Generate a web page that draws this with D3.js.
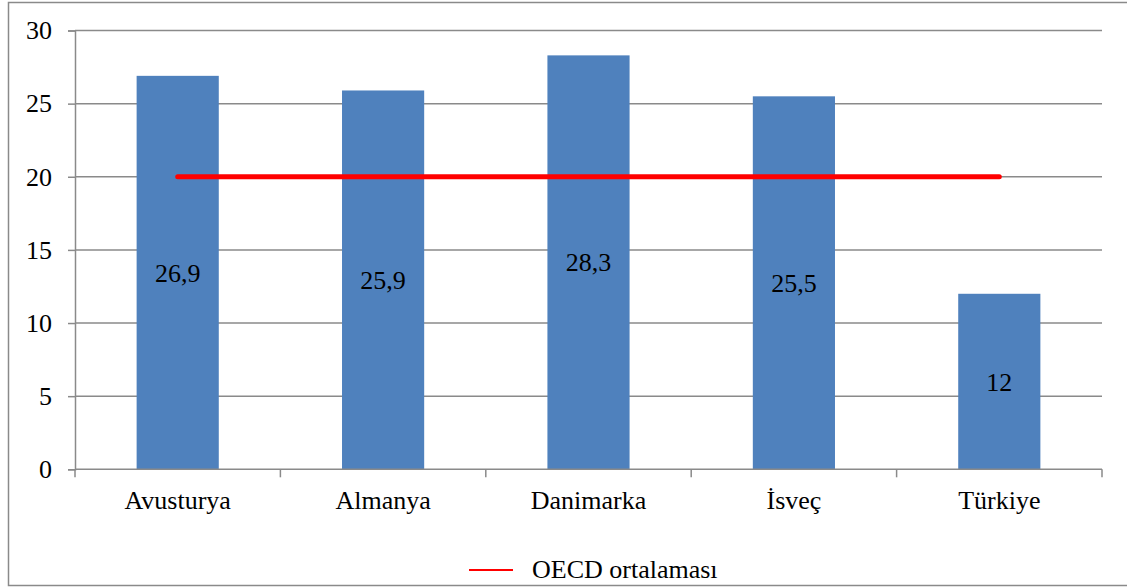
<!DOCTYPE html>
<html>
<head>
<meta charset="utf-8">
<script src="https://cdn.jsdelivr.net/npm/d3@7"></script>
<style>
  html, body { margin: 0; padding: 0; background: #fff; }
  svg { display: block; }
</style>
</head>
<body>
<svg id="chart" width="1127" height="587"></svg>
<script>
const categories = ["Avusturya", "Almanya", "Danimarka", "İsveç", "Türkiye"];
const values = [26.9, 25.9, 28.3, 25.5, 12];
const labels = ["26,9", "25,9", "28,3", "25,5", "12"];
const oecdValues = [20, 20, 20, 20, 20];
const yTicks = [0, 5, 10, 15, 20, 25, 30];
const legendLabel = "OECD ortalaması";

(function () {
const svg = d3.select("#chart");
const pLeft = 75, pRight = 1102, pTop = 30.5, pBottom = 469.3;
const fontSize = "26px";
const serif = "'Liberation Serif', 'Times New Roman', Times, serif";
const styleText = sel => sel.style("font-family", serif).style("font-size", fontSize).style("fill", "#000");

// outer frame
svg.append("rect")
  .attr("x", 8.5).attr("y", 2.5)
  .attr("width", 1130).attr("height", 583)
  .attr("fill", "none").attr("stroke", "#8a8a8a").attr("stroke-width", 1.5);

const x = d3.scaleBand().domain(categories).range([pLeft, pRight]).paddingInner(0).paddingOuter(0);
const y = d3.scaleLinear().domain([0, 30]).range([pBottom, pTop]);

// gridlines
svg.append("g").selectAll("line").data(yTicks.filter(d => d > 0)).join("line")
  .attr("x1", pLeft).attr("x2", pRight)
  .attr("y1", d => y(d)).attr("y2", d => y(d))
  .attr("stroke", "#8a8a8a").attr("stroke-width", 1.5);

// y axis
const yAxis = svg.append("g").attr("transform", `translate(${pLeft},0)`)
  .call(d3.axisLeft(y).tickValues(yTicks).tickSize(7).tickPadding(16).tickFormat(d3.format("d")));
yAxis.select(".domain").attr("stroke", "#8a8a8a").attr("stroke-width", 1.5);
yAxis.selectAll(".tick line").attr("stroke", "#8a8a8a").attr("stroke-width", 1.5);
yAxis.selectAll(".tick text").call(styleText);

// bars
const barW = x.bandwidth() * 0.4;
svg.append("g").selectAll("rect").data(values).join("rect")
  .attr("x", (d, i) => x(categories[i]) + (x.bandwidth() - barW) / 2)
  .attr("width", barW)
  .attr("y", d => y(d))
  .attr("height", d => y(0) - y(d))
  .attr("fill", "#4F81BD");

// x axis
svg.append("line").attr("x1", pLeft).attr("x2", pRight).attr("y1", pBottom).attr("y2", pBottom)
  .attr("stroke", "#8a8a8a").attr("stroke-width", 1.5);
const boundaries = categories.map(c => x(c)).concat([pRight]);
svg.append("g").selectAll("line").data(boundaries).join("line")
  .attr("x1", d => d).attr("x2", d => d)
  .attr("y1", pBottom).attr("y2", pBottom + 8)
  .attr("stroke", "#8a8a8a").attr("stroke-width", 1.5);
svg.append("g").selectAll("text").data(categories).join("text")
  .attr("x", d => x(d) + x.bandwidth() / 2)
  .attr("y", 509)
  .attr("text-anchor", "middle")
  .call(styleText)
  .text(d => d);

// data labels
svg.append("g").selectAll("text").data(values).join("text")
  .attr("x", (d, i) => x(categories[i]) + x.bandwidth() / 2)
  .attr("y", d => y(d / 2) + 9)
  .attr("text-anchor", "middle")
  .call(styleText)
  .text((d, i) => labels[i]);

// OECD line
const line = d3.line()
  .x((d, i) => x(categories[i]) + x.bandwidth() / 2)
  .y(d => y(d));
svg.append("path").datum(oecdValues)
  .attr("d", line)
  .attr("fill", "none").attr("stroke", "#FF0000")
  .attr("stroke-width", 5).attr("stroke-linecap", "round");

// legend
svg.append("line").attr("x1", 469).attr("x2", 513).attr("y1", 570).attr("y2", 570)
  .attr("stroke", "#FF0000").attr("stroke-width", 2);
svg.append("text").attr("x", 532).attr("y", 578).call(styleText).text(legendLabel);
})();
</script>
</body>
</html>
